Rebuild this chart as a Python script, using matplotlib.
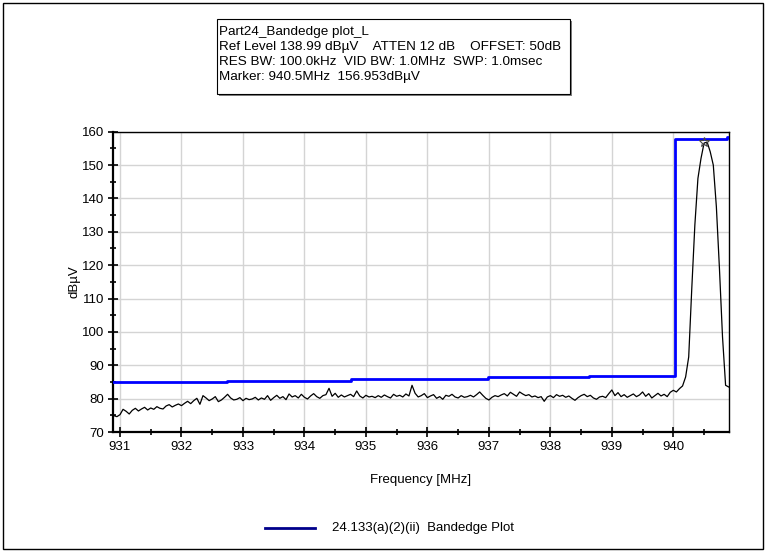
"""Part24 band-edge plot (spectrum analyser screenshot) redrawn with matplotlib."""
import matplotlib
matplotlib.use("Agg")
import matplotlib.pyplot as plt
from matplotlib.patches import Rectangle
from matplotlib.lines import Line2D
import numpy as np

plt.rcParams["font.family"] = ["Liberation Sans", "DejaVu Sans"]

# --- data ------------------------------------------------------------------
# sweep grid (MHz) and measured trace (dBuV)
freq = np.round(np.linspace(930.9, 940.9, 201), 2)
trace = [
    # 930.90 - 931.85
    74.9, 74.6, 75.2, 76.8, 76.2, 75.4, 76.5, 77.1, 76.3, 76.9,
    77.4, 76.6, 77.2, 76.8, 77.6, 77.1, 76.9, 77.8, 78.2, 77.5,
    # 931.90 - 932.85
    78.0, 78.4, 77.9, 78.6, 79.2, 78.5, 79.4, 80.1, 78.3, 80.9,
    80.2, 79.4, 79.9, 80.6, 79.1, 79.6, 80.4, 81.3, 80.2, 79.6,
    # 932.90 - 933.85
    79.8, 80.3, 79.4, 80.1, 79.7, 79.9, 80.4, 79.6, 80.2, 79.8,
    80.9, 79.5, 80.3, 81.0, 80.1, 80.6, 79.7, 81.4, 80.5, 80.9,
    # 933.90 - 934.85
    80.2, 81.3, 80.4, 79.9, 80.8, 81.5, 80.6, 80.1, 80.9, 81.2,
    83.1, 80.7, 81.6, 80.4, 81.1, 80.5, 80.9, 81.3, 80.6, 82.3,
    # 934.90 - 935.85
    80.8, 80.2, 81.0, 80.5, 80.7, 80.3, 80.9, 80.4, 81.1, 80.6,
    80.2, 81.3, 80.7, 81.0, 80.5, 81.4, 80.8, 84.0, 81.6, 80.5,
    # 935.90 - 936.85
    80.9, 81.5, 80.3, 80.8, 81.2, 80.1, 80.6, 79.8, 81.0, 80.7,
    81.3, 80.5, 80.2, 80.9, 80.4, 80.6, 81.0, 80.5, 81.2, 82.0,
    # 936.90 - 937.85
    81.0, 80.1, 79.6, 80.4, 80.9, 80.6, 81.1, 81.5, 80.8, 81.9,
    81.3, 80.7, 82.0, 81.4, 80.9, 81.2, 80.5, 80.8, 80.3, 80.6,
    # 937.90 - 938.85
    79.2, 80.5, 80.9, 80.3, 81.2, 80.7, 81.0, 80.4, 80.8, 80.1,
    79.5, 80.3, 80.9, 81.3, 80.6, 81.0, 80.2, 79.8, 80.5, 80.7,
    # 938.90 - 939.85
    80.3, 81.5, 82.6, 80.9, 81.8, 80.6, 81.2, 80.4, 80.9, 81.4,
    80.6, 81.1, 82.0, 80.7, 81.5, 80.2, 80.9, 81.6, 80.8, 81.3,
    # 939.90 - 940.90 (carrier)
    80.6, 81.9, 82.5, 82.0, 83.0, 83.8, 86.5, 92.5, 113.0, 132.0,
    146.0, 152.0, 156.6, 156.9, 154.0, 150.0, 137.5, 119.0, 98.5, 84.0,
    83.5,
]

# limit line (steps-post)
limit_freq = [930.88, 932.74, 934.75, 936.98, 938.63, 940.02, 940.88, 940.92]
limit_level = [85.0, 85.4, 85.9, 86.4, 86.8, 157.9, 158.3, 158.3]

marker_freq = 940.5
marker_level = 156.953

header = [
    "Part24_Bandedge plot_L",
    "Ref Level 138.99 dB\u00b5V    ATTEN 12 dB    OFFSET: 50dB",
    "RES BW: 100.0kHz  VID BW: 1.0MHz  SWP: 1.0msec",
    "Marker: 940.5MHz  156.953dB\u00b5V",
]
legend_label = "24.133(a)(2)(ii)  Bandedge Plot"

xticks = [931, 932, 933, 934, 935, 936, 937, 938, 939, 940]
yticks = [70, 80, 90, 100, 110, 120, 130, 140, 150, 160]

# --- figure -----------------------------------------------------------------
fig = plt.figure(figsize=(7.67, 5.53), dpi=100)
fig.patch.set_facecolor("white")
ax = fig.add_axes([0.1473, 0.2188, 0.8032, 0.543])

ax.plot(freq, trace, color="black", lw=0.9, zorder=3)
ax.plot(limit_freq, limit_level, color="#0000FF", lw=2.0,
        drawstyle="steps-post", zorder=4)
ax.plot([marker_freq], [marker_level], marker="*", ms=7, mfc="none",
        mec="#444444", mew=0.8, zorder=5)

ax.set_xlim(930.886, 940.906)
ax.set_ylim(70, 160)
ax.set_xticks(xticks)
ax.set_yticks(yticks)
ax.set_xticks(np.arange(931.5, 940.6, 1.0), minor=True)
ax.set_yticks(np.arange(75, 160, 10), minor=True)
ax.tick_params(which="major", direction="inout", length=7, width=1.2,
               labelsize=9.5, pad=3, colors="black")
ax.tick_params(which="minor", direction="inout", length=5, width=1.2)
ax.grid(which="major", color="#d4d4d4", lw=1.0, zorder=0)
for s in ax.spines.values():
    s.set_linewidth(1.0)
ax.spines["left"].set_linewidth(1.6)
ax.spines["bottom"].set_linewidth(1.6)

ax.set_xlabel("Frequency [MHz]", fontsize=9.5, labelpad=15)
ax.set_ylabel("dB\u00b5V", fontsize=9.5, labelpad=1)

# header box
box_l, box_b, box_w, box_h = 217 / 767, 1 - 94 / 553, 353 / 767, 75 / 553
fig.patches.append(Rectangle((box_l + 0.002, box_b - 0.004), box_w, box_h,
                             transform=fig.transFigure, facecolor="#808080",
                             edgecolor="none", zorder=1))
fig.patches.append(Rectangle((box_l, box_b), box_w, box_h,
                             transform=fig.transFigure, facecolor="white",
                             edgecolor="black", lw=0.8, zorder=2))
for i, line in enumerate(header):
    fig.text(box_l + 0.002, 1 - (32 + i * 15) / 553, line, fontsize=9.7,
             va="center", ha="left", zorder=3)

# legend at bottom
fig.lines.append(Line2D([265 / 767, 315 / 767], [1 - 528 / 553] * 2,
                        transform=fig.transFigure, color="#00008B", lw=2))
fig.text(332 / 767, 1 - 528 / 553, legend_label, fontsize=9.5, va="center")

# outer frame
fig.patches.append(Rectangle((0.004, 0.008), 0.991, 0.986,
                             transform=fig.transFigure, facecolor="none",
                             edgecolor="black", lw=1.0))

fig.savefig("out.png", dpi=100)
